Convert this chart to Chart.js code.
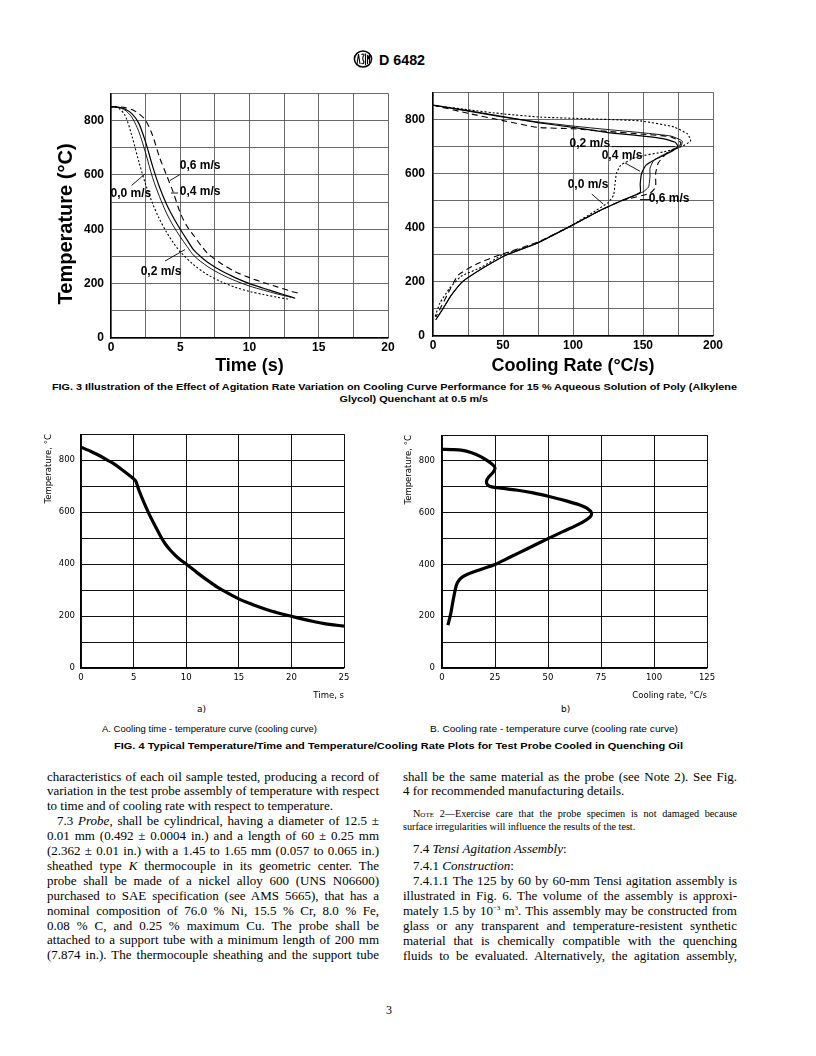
<!DOCTYPE html>
<html>
<head>
<meta charset="UTF-8">
<title>D 6482 - cooling curves</title>
<script src="https://cdn.jsdelivr.net/npm/chart.js@4.4.1/dist/chart.umd.min.js"></script>
<style>
  body { margin: 0; background: #fff; }
  #page { position: relative; width: 816px; height: 1056px; overflow: hidden; background: #fff; color: #000; }
  canvas { position: absolute; }
  .tx { position: absolute; white-space: nowrap; font-family: "Liberation Serif", "DejaVu Serif", serif; font-size: 13px; line-height: 15px; }
  .tx span { display: inline-block; transform-origin: 0 50%; }
  .note { font-size: 10.2px; line-height: 12px; }
  .sc { font-variant: small-caps; }
  .cap { position: absolute; white-space: nowrap; font-family: "Liberation Sans", Arial, sans-serif; font-size: 9px; line-height: 12px; }
  .cap span { display: inline-block; transform-origin: 0 50%; }
  .b { font-weight: bold; }
  sup { font-size: 7px; line-height: 0; }
</style>
</head>
<body>
<div id="page">

  <!-- header -->
  <svg style="position:absolute;left:353px;top:50px" width="20" height="18" viewBox="0 0 20 18">
    <ellipse cx="10" cy="9" rx="8.6" ry="8" fill="none" stroke="#000" stroke-width="1.5"/>
    <path d="M4 14 L5.5 4 L7 14 M8.5 5 Q10 3 11 5 Q8.5 8 11 12 Q10 15 8.5 13 M12.5 4 V15 M11.8 4 H13.2 M14.5 14 V5 L15.5 9 L16.5 5 V13" fill="none" stroke="#000" stroke-width="1.1"/>
  </svg>
  <div class="cap b" style="left:379px;top:51px;font-size:15px;line-height:18px" data-w="46" data-s="1"><span>D 6482</span></div>

  <canvas id="fig3a" width="358" height="299" style="left:45px;top:79px"></canvas>
  <canvas id="fig3b" width="325" height="301" style="left:403px;top:77px"></canvas>

  <div class="cap b" id="fig3cap1" style="left:52px;top:381px" data-w="685" data-s="1"><span>FIG. 3 Illustration of the Effect of Agitation Rate Variation on Cooling Curve Performance for 15 % Aqueous Solution of Poly (Alkylene</span></div>
  <div class="cap b" id="fig3cap2" style="left:0;top:393px;width:816px;text-align:center;padding-left:12px;box-sizing:border-box"><span>Glycol) Quenchant at 0.5 m/s</span></div>

  <canvas id="fig4a" width="319" height="279" style="left:40px;top:423px"></canvas>
  <canvas id="fig4b" width="322" height="279" style="left:400px;top:423px"></canvas>

  <div class="cap" style="left:197px;top:703px;font-family:'DejaVu Sans',sans-serif;font-size:9px">a)</div>
  <div class="cap" style="left:561px;top:703px;font-family:'DejaVu Sans',sans-serif;font-size:9px">b)</div>
  <div class="cap" style="left:102px;top:723px;font-size:8.5px" data-w="215" data-s="1"><span>A. Cooling time - temperature curve (cooling curve)</span></div>
  <div class="cap" style="left:430px;top:723px;font-size:8.5px" data-w="248" data-s="1"><span>B. Cooling rate - temperature curve (cooling rate curve)</span></div>
  <div class="cap b" style="left:114px;top:740px" data-w="569" data-s="1"><span>FIG. 4 Typical Temperature/Time and Temperature/Cooling Rate Plots for Test Probe Cooled in Quenching Oil</span></div>

  <!-- left column -->
  <div class="tx" style="left:47px;top:768.5px" data-w="332" data-j="1"><span>characteristics of each oil sample tested, producing a record of</span></div>
  <div class="tx" style="left:47px;top:783.4px" data-w="332" data-j="1"><span>variation in the test probe assembly of temperature with respect</span></div>
  <div class="tx" style="left:47px;top:798.3px" data-w="332"><span>to time and of cooling rate with respect to temperature.</span></div>
  <div class="tx" style="left:57px;top:813.2px" data-w="322" data-j="1"><span>7.3 <i>Probe</i>, shall be cylindrical, having a diameter of 12.5 ±</span></div>
  <div class="tx" style="left:47px;top:828.1px" data-w="332" data-j="1"><span>0.01 mm (0.492 ± 0.0004 in.) and a length of 60 ± 0.25 mm</span></div>
  <div class="tx" style="left:47px;top:843px" data-w="332" data-j="1"><span>(2.362 ± 0.01 in.) with a 1.45 to 1.65 mm (0.057 to 0.065 in.)</span></div>
  <div class="tx" style="left:47px;top:857.9px" data-w="332" data-j="1"><span>sheathed type <i>K</i> thermocouple in its geometric center. The</span></div>
  <div class="tx" style="left:47px;top:872.8px" data-w="332" data-j="1"><span>probe shall be made of a nickel alloy 600 (UNS N06600)</span></div>
  <div class="tx" style="left:47px;top:887.7px" data-w="332" data-j="1"><span>purchased to SAE specification (see AMS 5665), that has a</span></div>
  <div class="tx" style="left:47px;top:902.6px" data-w="332" data-j="1"><span>nominal composition of 76.0 % Ni, 15.5 % Cr, 8.0 % Fe,</span></div>
  <div class="tx" style="left:47px;top:917.5px" data-w="332" data-j="1"><span>0.08 % C, and 0.25 % maximum Cu. The probe shall be</span></div>
  <div class="tx" style="left:47px;top:932.4px" data-w="332" data-j="1"><span>attached to a support tube with a minimum length of 200 mm</span></div>
  <div class="tx" style="left:47px;top:947.3px" data-w="332" data-j="1"><span>(7.874 in.). The thermocouple sheathing and the support tube</span></div>

  <!-- right column -->
  <div class="tx" style="left:403px;top:768.5px" data-w="334" data-j="1"><span>shall be the same material as the probe (see Note 2). See Fig.</span></div>
  <div class="tx" style="left:403px;top:783.2px" data-w="334"><span>4 for recommended manufacturing details.</span></div>
  <div class="tx note" style="left:413px;top:808px" data-w="324" data-j="1"><span><span class="sc">Note</span> 2—Exercise care that the probe specimen is not damaged because</span></div>
  <div class="tx note" style="left:403px;top:821px" data-w="334"><span>surface irregularities will influence the results of the test.</span></div>
  <div class="tx" style="left:413px;top:840.5px" data-w="324"><span>7.4 <i>Tensi Agitation Assembly</i>:</span></div>
  <div class="tx" style="left:413px;top:857.5px" data-w="324"><span>7.4.1 <i>Construction</i>:</span></div>
  <div class="tx" style="left:413px;top:873.2px" data-w="324" data-j="1"><span>7.4.1.1 The 125 by 60 by 60-mm Tensi agitation assembly is</span></div>
  <div class="tx" style="left:403px;top:888.2px" data-w="334" data-j="1"><span>illustrated in Fig. 6. The volume of the assembly is approxi-</span></div>
  <div class="tx" style="left:403px;top:903.2px" data-w="334" data-j="1"><span>mately 1.5 by 10<sup>−3</sup> m<sup>3</sup>. This assembly may be constructed from</span></div>
  <div class="tx" style="left:403px;top:918.2px" data-w="334" data-j="1"><span>glass or any transparent and temperature-resistent synthetic</span></div>
  <div class="tx" style="left:403px;top:933.2px" data-w="334" data-j="1"><span>material that is chemically compatible with the quenching</span></div>
  <div class="tx" style="left:403px;top:948.2px" data-w="334" data-j="1"><span>fluids to be evaluated. Alternatively, the agitation assembly,</span></div>

  <div class="tx" style="left:386px;top:1003px;font-size:12px">3</div>
</div>

<script>
// ---- FIG. 3 (left): temperature vs time at four agitation rates ----
var speedLabels = ['0,0 m/s', '0,2 m/s', '0,4 m/s', '0,6 m/s'];

var fig3aTime00 = [0, 0.5, 1, 1.5, 2, 2.5, 3, 3.5, 4, 4.5, 5, 6, 7, 8, 9, 10, 11, 12, 12.8];
var fig3aTemp00 = [850, 846, 820, 745, 650, 565, 495, 437, 390, 350, 317, 268, 232, 206, 186, 171, 160, 150, 143];
var fig3aTime02 = [0, 0.5, 1, 1.5, 2, 2.5, 3, 3.5, 4, 4.5, 5, 5.5, 6, 7, 8, 9, 10, 11, 12, 13];
var fig3aTemp02 = [850, 848, 838, 812, 760, 680, 590, 520, 460, 412, 372, 336, 302, 262, 233, 210, 191, 176, 162, 150];
var fig3aTime04 = [0, 0.5, 1, 1.5, 2, 2.5, 3, 3.5, 4, 4.5, 5, 5.5, 6, 6.5, 7, 8, 9, 10, 11, 12, 13, 13.3];
var fig3aTemp04 = [850, 849, 842, 825, 790, 720, 632, 555, 493, 443, 400, 360, 322, 298, 278, 246, 221, 200, 183, 167, 151, 146];
var fig3aTime06 = [0, 0.5, 1, 1.5, 2, 2.5, 3, 3.5, 4, 4.5, 5, 5.5, 6, 6.5, 7, 8, 9, 10, 11, 12, 13, 13.5];
var fig3aTemp06 = [851, 850, 847, 840, 825, 800, 745, 665, 600, 535, 460, 410, 375, 340, 310, 272, 243, 222, 204, 188, 172, 165];

// ---- FIG. 3 (right): temperature vs cooling rate ----
var fig3bRate00 = [0, 25, 50, 77, 110, 148, 172, 182, 184, 178, 165, 145, 134, 131, 130, 129, 125, 116, 98, 74, 50, 35, 20, 12, 5, 1];
var fig3bTemp00 = [852, 835, 820, 808, 802, 794, 772, 745, 720, 700, 680, 660, 630, 600, 560, 520, 492, 462, 405, 342, 300, 255, 220, 177, 122, 65];
var fig3bRate02 = [0, 25, 50, 75, 100, 125, 150, 170, 178, 177, 168, 158, 155, 155, 154, 150, 135, 120, 98, 74, 52, 36, 24, 20, 13, 7, 2];
var fig3bTemp02 = [852, 830, 808, 790, 775, 762, 750, 738, 720, 700, 678, 650, 620, 590, 550, 532, 500, 465, 405, 342, 298, 252, 212, 195, 150, 100, 60];
var fig3bRate04 = [0, 25, 50, 75, 100, 125, 150, 165, 173, 175, 170, 160, 152, 149, 148, 148, 135, 120, 98, 74, 52, 36, 24, 20, 13, 7, 2];
var fig3bTemp04 = [852, 832, 810, 788, 770, 751, 738, 728, 715, 700, 680, 655, 630, 600, 560, 530, 500, 465, 405, 342, 298, 252, 212, 195, 150, 100, 60];
var fig3bRate06 = [0, 25, 50, 75, 100, 125, 150, 170, 177, 176, 168, 161, 159, 159, 155, 135, 120, 98, 74, 48, 32, 18, 10, 5, 2];
var fig3bTemp06 = [852, 822, 795, 770, 765, 755, 745, 735, 715, 700, 680, 640, 600, 550, 527, 500, 465, 405, 345, 300, 268, 225, 150, 100, 70];

// ---- FIG. 4 a) cooling curve, b) cooling rate curve ----
var fig4aTime = [0, 1, 2, 2.5, 3, 4, 5, 5.2, 5.5, 6, 6.5, 7, 7.5, 8, 8.5, 9, 9.5, 10, 11, 12, 13, 14, 15, 16, 17, 18, 19, 20, 21, 22, 23, 24, 25];
var fig4aTemp = [850, 832, 812, 800, 789, 760, 728, 720, 685, 635, 590, 550, 512, 478, 453, 432, 415, 400, 368, 338, 310, 287, 266, 249, 234, 220, 209, 199, 189, 180, 172, 166, 161];
var fig4bRate = [0, 5, 9, 14, 18, 21, 24, 25, 24, 22, 21, 21.5, 23.5, 28, 35, 43, 51, 59, 65, 68.5, 70.5, 70, 66, 57, 50, 40, 32, 25, 18, 12, 9, 7.3, 6.3, 5, 4, 2.8];
var fig4bTemp = [845, 844, 842, 832, 818, 803, 785, 772, 755, 738, 722, 708, 700, 695, 688, 677, 662, 645, 630, 617, 600, 585, 562, 527, 500, 460, 428, 400, 380, 362, 348, 330, 305, 250, 205, 166];

function pts(xs, ys) {
  return xs.map(function (x, i) { return { x: x, y: ys[i] }; });
}

function curve(xs, ys, dash, width, tension) {
  return {
    data: pts(xs, ys), showLine: true, borderColor: '#000', borderWidth: width || 1.1,
    borderDash: dash || [], pointRadius: 0, tension: tension === undefined ? 0.3 : tension, fill: false
  };
}

// labels with leader lines, placed in data units
function notes(items, font) {
  return {
    id: 'notes',
    afterDatasetsDraw: function (chart) {
      var ctx = chart.ctx, x = chart.scales.x, y = chart.scales.y;
      ctx.save();
      ctx.font = font;
      ctx.fillStyle = '#000';
      ctx.strokeStyle = '#000';
      ctx.lineWidth = 0.9;
      ctx.textAlign = 'center';
      ctx.textBaseline = 'middle';
      items.forEach(function (it) {
        ctx.fillText(it.text, x.getPixelForValue(it.x), y.getPixelForValue(it.y));
        if (it.line) {
          ctx.beginPath();
          ctx.moveTo(x.getPixelForValue(it.line[0]), y.getPixelForValue(it.line[1]));
          ctx.lineTo(x.getPixelForValue(it.line[2]), y.getPixelForValue(it.line[3]));
          ctx.stroke();
        }
      });
      ctx.restore();
    }
  };
}

function build(id, o) {
  var every = function (n) { return function (v) { return Math.abs(v % n) < 1e-9 ? v : ''; }; };
  return new Chart(document.getElementById(id), {
    type: 'scatter',
    data: { datasets: o.datasets },
    options: {
      responsive: false, animation: false, events: [],
      layout: { padding: { left: 0, top: 10, right: 15, bottom: 0 } },
      plugins: { legend: { display: false }, tooltip: { enabled: false } },
      scales: {
        x: {
          type: 'linear', min: 0, max: o.xMax,
          ticks: { stepSize: o.xStep, callback: every(o.xLabelEvery), autoSkip: false, maxRotation: 0,
                   font: o.tickFont, color: '#000', padding: o.xPad },
          grid: { color: o.gridColor, lineWidth: o.gridWidth, drawTicks: false },
          border: { color: '#000', width: 1.2 },
          title: { display: true, text: o.xTitle, font: o.xTitleFont, color: '#000', align: o.xTitleAlign,
                   padding: { top: 0, bottom: 1 } },
          afterFit: function (s) { s.height = o.xH; }
        },
        y: {
          type: 'linear', min: 0, max: 900,
          ticks: { stepSize: 100, callback: every(200), autoSkip: false, font: o.tickFont, color: '#000', padding: o.yPad },
          grid: { color: o.gridColor, lineWidth: o.gridWidth, drawTicks: false },
          border: { color: '#000', width: 1.2 },
          title: { display: !!o.yTitle, text: o.yTitle, font: o.yTitleFont, color: '#000', align: o.yTitleAlign,
                   padding: { top: o.yTitlePad, bottom: 0 } },
          afterFit: function (s) { s.width = o.yW; }
        }
      }
    },
    plugins: o.notes ? [o.notes] : []
  });
}

var boldTick = { family: 'Liberation Sans', size: 12, weight: 'bold' };
var thinTick = { family: 'DejaVu Sans', size: 8.5 };
var noteFont = 'bold 12px "Liberation Sans"';

build('fig3a', {
  datasets: [
    curve(fig3aTime00, fig3aTemp00, [2, 2]),
    curve(fig3aTime02, fig3aTemp02, [], 0.9),
    curve(fig3aTime04, fig3aTemp04, [], 1.2),
    curve(fig3aTime06, fig3aTemp06, [6, 4])
  ],
  xMax: 20, xStep: 2.5, xLabelEvery: 5, xPad: 2, yPad: 7, yW: 66, xH: 40,
  tickFont: boldTick, gridColor: '#444', gridWidth: 0.8,
  xTitle: 'Time (s)', xTitleFont: { family: 'Liberation Sans', size: 18, weight: 'bold' }, xTitleAlign: 'center',
  yTitle: 'Temperature (°C)   ', yTitleFont: { family: 'Liberation Sans', size: 20, weight: 'bold' }, yTitleAlign: 'center', yTitlePad: 9.7,
  notes: notes([
    { text: speedLabels[3], x: 6.43, y: 635, line: [4.98, 601, 4.26, 579] },
    { text: speedLabels[0], x: 1.44, y: 530, line: [1.49, 561, 2.45, 603] },
    { text: speedLabels[2], x: 6.43, y: 537, line: [4.33, 533, 4.84, 533] },
    { text: speedLabels[1], x: 3.61, y: 243, line: [3.9, 283, 5.34, 325] }
  ], noteFont)
});

build('fig3b', {
  datasets: [
    curve(fig3bRate00, fig3bTemp00, [2, 2], 1.1, 0.15),
    curve(fig3bRate02, fig3bTemp02, [], 0.9, 0.15),
    curve(fig3bRate04, fig3bTemp04, [], 1.2, 0.15),
    curve(fig3bRate06, fig3bTemp06, [6, 4], 1.1, 0.15)
  ],
  xMax: 200, xStep: 25, xLabelEvery: 50, xPad: 2, yPad: 8, yW: 30, xH: 42,
  tickFont: boldTick, gridColor: '#444', gridWidth: 0.8,
  xTitle: 'Cooling Rate (°C/s)', xTitleFont: { family: 'Liberation Sans', size: 18, weight: 'bold' }, xTitleAlign: 'center',
  yTitle: '',
  notes: notes([
    { text: speedLabels[1], x: 112, y: 711, line: [127.6, 699, 172.9, 699] },
    { text: speedLabels[2], x: 135, y: 664, line: [137.1, 639, 147.9, 608] },
    { text: speedLabels[0], x: 110.7, y: 559, line: [113.4, 524, 121.6, 487] },
    { text: speedLabels[3], x: 168.6, y: 508, line: [155, 504, 147.9, 504] }
  ], noteFont)
});

build('fig4a', {
  datasets: [curve(fig4aTime, fig4aTemp, [], 3.2, 0.25)],
  xMax: 25, xStep: 5, xLabelEvery: 5, xPad: 5, yPad: 6, yW: 41, xH: 34,
  tickFont: thinTick, gridColor: '#111', gridWidth: 1,
  xTitle: 'Time, s', xTitleFont: thinTick, xTitleAlign: 'end',
  yTitle: 'Temperature, °C', yTitleFont: thinTick, yTitleAlign: 'end', yTitlePad: 3.3
});

build('fig4b', {
  datasets: [curve(fig4bRate, fig4bTemp, [], 3.2, 0.25)],
  xMax: 125, xStep: 25, xLabelEvery: 25, xPad: 5, yPad: 7, yW: 42, xH: 34,
  tickFont: thinTick, gridColor: '#111', gridWidth: 1,
  xTitle: 'Cooling rate, °C/s', xTitleFont: thinTick, xTitleAlign: 'end',
  yTitle: 'Temperature, °C', yTitleFont: thinTick, yTitleAlign: 'end', yTitlePad: 3.3
});

// fit text lines to the measured column widths
var capScale = 1;
document.querySelectorAll('[data-w]').forEach(function (el) {
  var target = parseFloat(el.getAttribute('data-w'));
  var sp = el.firstElementChild;
  var w = sp.getBoundingClientRect().width;
  if (el.hasAttribute('data-j') && w < target) {
    var gaps = sp.textContent.split(' ').length - 1;
    if (gaps > 0) sp.style.wordSpacing = ((target - w) / gaps) + 'px';
  } else if (w > target || el.hasAttribute('data-s')) {
    sp.style.transform = 'scaleX(' + (target / w) + ')';
    if (el.id === 'fig3cap1') capScale = target / w;
  }
});
// second caption line uses the same squeeze as the first, kept centred
var cap2 = document.querySelector('#fig3cap2 span');
cap2.style.transformOrigin = '50% 50%';
cap2.style.transform = 'scaleX(' + capScale + ')';
</script>
</body>
</html>
